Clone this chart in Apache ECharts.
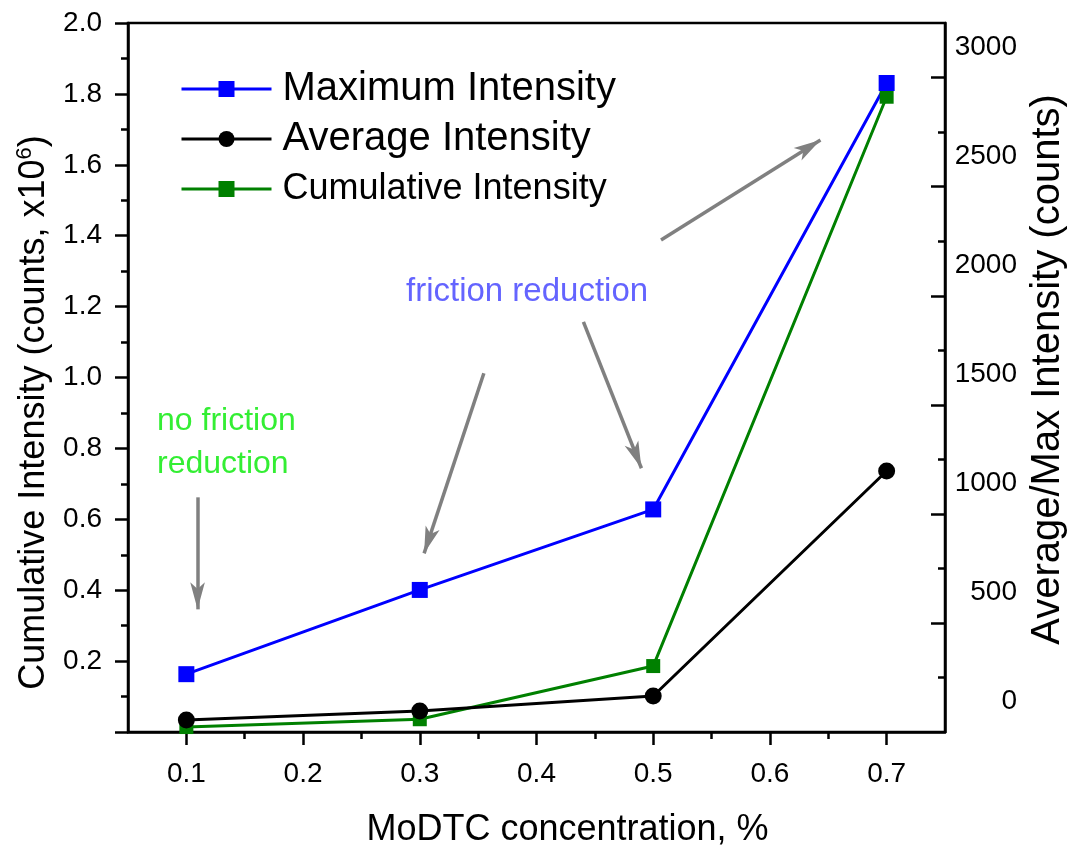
<!DOCTYPE html>
<html><head><meta charset="utf-8">
<script src="https://cdn.jsdelivr.net/npm/echarts@6/dist/echarts.min.js"></script>
<style>html,body{margin:0;padding:0;background:#fff}#c{width:1067px;height:852px}</style>
</head><body><div id="c"></div>
<script>
// ---- data ----
const concentrations = [0.1, 0.3, 0.5, 0.7];
const maxIntensity = [126, 512, 881, 2835];     // right axis (counts)
const avgIntensity = [-84, -43, 26, 1057];      // right axis (counts)
const cumIntensity = [0.014, 0.036, 0.186, 1.792]; // left axis (x10^6 counts)

const xLabelValues = [0.1, 0.2, 0.3, 0.4, 0.5, 0.6, 0.7];
const xMinorTickValues = [0.15, 0.25, 0.35, 0.45, 0.55, 0.65];
const rightLabelValues = [0, 500, 1000, 1500, 2000, 2500, 3000];
const rightMajorTickValues = [360, 860, 1360, 1860, 2360, 2860];
const rightMinorTickValues = [110, 610, 1110, 1610, 2110, 2610];

// annotation arrows in (concentration, cumulative) data space: [start, tip]
const arrows = [
  [[0.1096, 0.662], [0.1096, 0.346]],
  [[0.3549, 1.012], [0.3037, 0.504]],
  [[0.4402, 1.157], [0.4899, 0.744]],
  [[0.5067, 1.388], [0.6433, 1.670]]
];

const FONT = "'Liberation Sans', Arial, sans-serif";
const chart = echarts.init(document.getElementById('c'), null, {renderer: 'canvas'});
const pts = arr => concentrations.map((x, i) => [x, arr[i]]);
const axisLineStyle = {color: '#000', width: 2.5};

chart.setOption({
  animation: false,
  backgroundColor: '#fff',
  grid: {left: 128, right: 122, top: 23, bottom: 120, show: true, borderColor: '#000', borderWidth: 2.5,
    containLabel: false, outerBoundsMode: 'none'},
  legend: {
    orient: 'vertical', left: 180, top: 69, padding: 0, itemWidth: 90, itemHeight: 20, itemGap: 10,
    lineStyle: {width: 3},
    textStyle: {color: '#000', fontFamily: FONT, fontSize: 40, lineHeight: 40, padding: [0, 0, 0, 6]},
    data: [
      {name: 'Maximum Intensity', textStyle: {fontSize: 40, lineHeight: 40}},
      {name: 'Average Intensity', textStyle: {fontSize: 40, lineHeight: 40}},
      {name: 'Cumulative Intensity', textStyle: {fontSize: 36, lineHeight: 40}}
    ]
  },
  xAxis: [
    {
      type: 'value', min: 0.05, max: 0.75, position: 'bottom',
      name: 'MoDTC concentration, %', nameLocation: 'middle', nameGap: 80,
      nameTextStyle: {fontFamily: FONT, fontSize: 36, color: '#000', padding: [0, 0, 0, 62]},
      axisLine: {show: true, onZero: false, lineStyle: axisLineStyle},
      axisTick: {show: true, customValues: xLabelValues, length: 13, lineStyle: axisLineStyle},
      axisLabel: {customValues: xLabelValues, fontFamily: FONT, fontSize: 28, color: '#000', margin: 28,
        formatter: v => v.toFixed(1)},
      splitLine: {show: false}
    },
    {
      type: 'value', min: 0.05, max: 0.75, position: 'bottom',
      axisLine: {show: false, onZero: false},
      axisTick: {show: true, customValues: xMinorTickValues, length: 7, lineStyle: axisLineStyle},
      axisLabel: {show: false}, splitLine: {show: false}
    }
  ],
  yAxis: [
    {
      type: 'value', min: 0, max: 2, interval: 0.2, position: 'left',
      name: '{a|Cumulative Intensity (counts, x10}{s|6}{a|)}', nameLocation: 'middle', nameGap: 70, nameRotate: 90,
      nameTextStyle: {padding: [0, 70, 0, 0], rich: {
        a: {fontFamily: FONT, fontSize: 36, color: '#000', lineHeight: 40},
        s: {fontFamily: FONT, fontSize: 22, color: '#000', lineHeight: 40, verticalAlign: 'top', padding: [0, 0, 14, 0]}
      }},
      axisLine: {show: true, onZero: false, lineStyle: axisLineStyle},
      axisTick: {show: true, length: 13, lineStyle: axisLineStyle},
      minorTick: {show: true, splitNumber: 2, length: 7, lineStyle: axisLineStyle},
      axisLabel: {showMinLabel: false, fontFamily: FONT, fontSize: 28, color: '#000', margin: 26,
        formatter: v => v.toFixed(1)},
      splitLine: {show: false}
    },
    {
      type: 'value', min: -139, max: 3110, position: 'right',
      name: 'Average/Max Intensity (counts)', nameLocation: 'middle', nameGap: 80, nameRotate: 90,
      nameTextStyle: {fontFamily: FONT, fontSize: 40, color: '#000', padding: [0, 0, 0, 16]},
      axisLine: {show: true, onZero: false, lineStyle: axisLineStyle},
      axisTick: {show: true, inside: true, customValues: rightMajorTickValues, length: 14, lineStyle: axisLineStyle},
      axisLabel: {customValues: rightLabelValues, align: 'right', margin: 72, fontFamily: FONT, fontSize: 28, color: '#000',
        formatter: v => String(v)},
      splitLine: {show: false}
    },
    {
      type: 'value', min: -139, max: 3110, position: 'right',
      axisLine: {show: false, onZero: false},
      axisTick: {show: true, inside: true, customValues: rightMinorTickValues, length: 7, lineStyle: axisLineStyle},
      axisLabel: {show: false}, splitLine: {show: false}
    }
  ],
  series: [
    {
      name: 'Cumulative Intensity', type: 'line', xAxisIndex: 0, yAxisIndex: 0,
      data: pts(cumIntensity), symbol: 'rect', symbolSize: 14,
      itemStyle: {color: '#008000'}, lineStyle: {color: '#008000', width: 3},
      markLine: {
        silent: true, animation: false, label: {show: false},
        lineStyle: {color: '#808080', width: 3.5, type: 'solid'},
        emphasis: {disabled: true},
        data: arrows.map(a => [
          {coord: a[0], symbol: 'none'},
          {coord: a[1], symbol: 'arrow', symbolSize: [11, 27]}
        ])
      }
    },
    {
      name: 'Maximum Intensity', type: 'line', xAxisIndex: 0, yAxisIndex: 1,
      data: pts(maxIntensity), symbol: 'rect', symbolSize: 16,
      itemStyle: {color: '#0000ff'}, lineStyle: {color: '#0000ff', width: 3}
    },
    {
      name: 'Average Intensity', type: 'line', xAxisIndex: 0, yAxisIndex: 1,
      data: pts(avgIntensity), symbol: 'circle', symbolSize: 17,
      itemStyle: {color: '#000000'}, lineStyle: {color: '#000000', width: 3}
    }
  ],
  graphic: [
    {type: 'text', left: 406, top: 275, silent: true,
      style: {text: 'friction reduction', fontFamily: FONT, fontSize: 33, fill: '#6464ff'}},
    {type: 'text', left: 157, top: 400, silent: true,
      style: {text: 'no friction\nreduction', fontFamily: FONT, fontSize: 32, lineHeight: 43, fill: '#33ee33'}}
  ]
});
</script>
</body></html>
